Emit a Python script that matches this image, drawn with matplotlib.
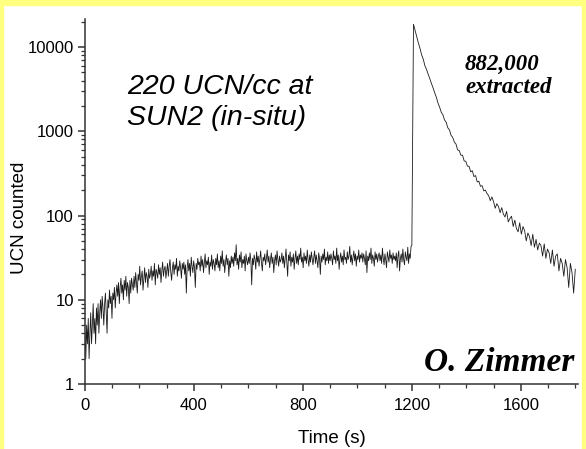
import matplotlib
matplotlib.use("Agg")
import matplotlib.pyplot as plt
import numpy as np
from matplotlib.patches import Rectangle
from matplotlib.ticker import LogLocator, FixedLocator, MultipleLocator, NullFormatter

# UCN counts
# build-up phase, 3 s bins, 0 .. 1200 s
buildup = [
    4, 2, 5, 3, 6, 2, 4, 7, 3, 5, 9, 4, 6, 3, 8, 5, 9, 4, 7, 10,
    6, 11, 8, 5, 9, 12, 7, 4, 10, 8, 13, 9, 11, 6, 12, 10, 14, 8, 12, 15,
    11, 16, 9, 14, 18, 12, 15, 10, 17, 13, 19, 11, 16, 14, 9, 17, 12, 18, 15, 13,
    19, 14, 21, 16, 12, 20, 17, 25, 15, 19, 22, 13, 18, 24, 16, 21, 19, 14, 23, 18,
    20, 25, 17, 22, 19, 27, 15, 23, 21, 18, 26, 20, 24, 16, 22, 28, 19, 23, 25, 18,
    22, 27, 19, 25, 30, 21, 17, 24, 28, 20, 26, 23, 31, 19, 25, 22, 29, 24, 18, 27,
    23, 28, 20, 26, 12, 24, 30, 22, 27, 19, 32, 25, 21, 29, 24, 14, 27, 23, 31, 26,
    28, 22, 33, 25, 30, 21, 27, 35, 24, 29, 26, 32, 20, 28, 25, 34, 23, 30, 27, 22,
    31, 26, 35, 24, 29, 22, 33, 27, 38, 25, 30, 21, 28, 34, 26, 31, 19, 29, 24, 33,
    27, 32, 25, 36, 29, 45, 26, 31, 23, 34, 28, 37, 24, 30, 27, 33, 22, 35, 29, 26,
    32, 27, 36, 29, 15, 31, 26, 34, 30, 23, 37, 28, 33, 25, 31, 38, 27, 22, 32, 29,
    35, 26, 31, 39, 28, 33, 24, 30, 36, 27, 32, 21, 29, 34, 26, 38, 30, 25, 33, 28,
    30, 36, 27, 33, 24, 31, 40, 28, 19, 34, 29, 37, 25, 32, 28, 35, 23, 31, 38, 27,
    33, 26, 35, 30, 41, 28, 32, 24, 36, 29, 33, 27, 39, 30, 25, 34, 28, 37, 31, 26,
    32, 38, 27, 34, 29, 24, 36, 31, 20, 33, 28, 35, 30, 40, 26, 32, 29, 37, 27, 34,
    29, 35, 31, 26, 38, 30, 33, 27, 41, 29, 34, 23, 31, 36, 28, 33, 26, 39, 30, 32,
    27, 37, 30, 33, 43, 28, 34, 26, 32, 38, 29, 35, 25, 33, 30, 39, 28, 34, 31, 36,
    28, 35, 31, 26, 38, 21, 33, 29, 36, 30, 41, 27, 34, 31, 25, 37, 30, 35, 28, 33,
    36, 29, 34, 27, 41, 31, 26, 35, 30, 24, 37, 32, 28, 39, 31, 34, 27, 36, 30, 33,
    29, 36, 24, 33, 38, 22, 31, 35, 28, 40, 30, 26, 37, 32, 29, 42, 27, 35, 31, 43,
    44,
]
# extraction phase, 6 s bins, 1206 .. 1800 s
extraction = [
    18620, 15700, 13250, 11150, 9600, 8050, 7150, 5980, 5420, 4740,
    4210, 3680, 3270, 2850, 2530, 2160, 1930, 1680, 1570, 1360,
    1280, 1100, 1040, 895, 845, 745, 705, 600, 590, 520,
    520, 445, 440, 385, 384, 330, 340, 290, 298, 250,
    255, 222, 226, 196, 200, 182, 172, 150, 166, 146,
    122, 138, 128, 108, 124, 104, 96, 112, 84, 92,
    98, 74, 88, 70, 64, 82, 60, 74, 66, 50,
    62, 56, 44, 60, 42, 52, 39, 47, 44, 33,
    46, 31, 40, 36, 27, 39, 25, 33, 35, 22,
    31, 27, 19, 30, 24, 14, 27, 21, 12, 23,
]
t_build = np.arange(len(buildup)) * 3
t_extr = 1206 + np.arange(len(extraction)) * 6
time_s = np.concatenate([t_build, t_extr])
counts = np.array(buildup + extraction)

plt.rcParams["font.family"] = ["Liberation Sans", "DejaVu Sans"]

fig = plt.figure(figsize=(5.86, 4.49), dpi=100)
fig.patch.set_facecolor("white")

# yellow frame round the slide
yel = "#ffff80"
fig.patches.append(Rectangle((0, 1 - 5 / 449), 1, 5 / 449, transform=fig.transFigure, color=yel, zorder=0))
fig.patches.append(Rectangle((0, 0), 3 / 586, 1, transform=fig.transFigure, color=yel, zorder=0))
fig.patches.append(Rectangle((1 - 4 / 586, 0), 4 / 586, 1, transform=fig.transFigure, color=yel, zorder=0))

ax = fig.add_axes([85 / 586, 1 - 384 / 449, (578 - 85) / 586, (384 - 19) / 449])
ax.plot(time_s, counts, color="#1a1a1a", lw=0.6)

ax.set_yscale("log")
ax.set_xlim(0, 1810)
ax.set_ylim(1, 21500)

for s in ["top", "right"]:
    ax.spines[s].set_visible(False)
for s in ["left", "bottom"]:
    ax.spines[s].set_linewidth(1.1)
    ax.spines[s].set_color("#333333")

ax.xaxis.set_major_locator(FixedLocator([0, 400, 800, 1200, 1600]))
ax.xaxis.set_minor_locator(MultipleLocator(100))
ax.yaxis.set_major_locator(FixedLocator([1, 10, 100, 1000, 10000]))
ax.yaxis.set_minor_locator(LogLocator(base=10, subs=np.arange(2, 10)))
ax.yaxis.set_minor_formatter(NullFormatter())
ax.set_yticklabels(["1", "10", "100", "1000", "10000"])

ax.tick_params(axis="both", which="major", direction="out", length=5, width=1.1,
               color="#333333", labelsize=12)
ax.tick_params(axis="x", which="major", pad=5)
ax.tick_params(axis="y", which="major", pad=3)
ax.tick_params(axis="both", which="minor", direction="out", length=3, width=0.9, color="#333333")

ax.set_xlabel("Time (s)", fontsize=13.5, labelpad=12)
ax.set_ylabel("UCN counted", fontsize=13.5)
ax.yaxis.set_label_coords(-0.115, 0.455)

fig.text(127 / 586, 1 - 74 / 449, "220 UCN/cc at\nSUN2 (in-situ)", fontsize=20.5,
         style="italic", va="top", ha="left", linespacing=1.25)
fig.text(465 / 586, 1 - 54 / 449, "882,000\nextracted", fontsize=16.5, style="italic",
         weight="bold", family="Liberation Serif", va="top", ha="left", linespacing=1.15)
fig.text(574 / 586, 1 - 371 / 449, "O. Zimmer", fontsize=24, style="italic",
         weight="bold", family="Liberation Serif", va="baseline", ha="right")

fig.savefig("out.png", dpi=100)
